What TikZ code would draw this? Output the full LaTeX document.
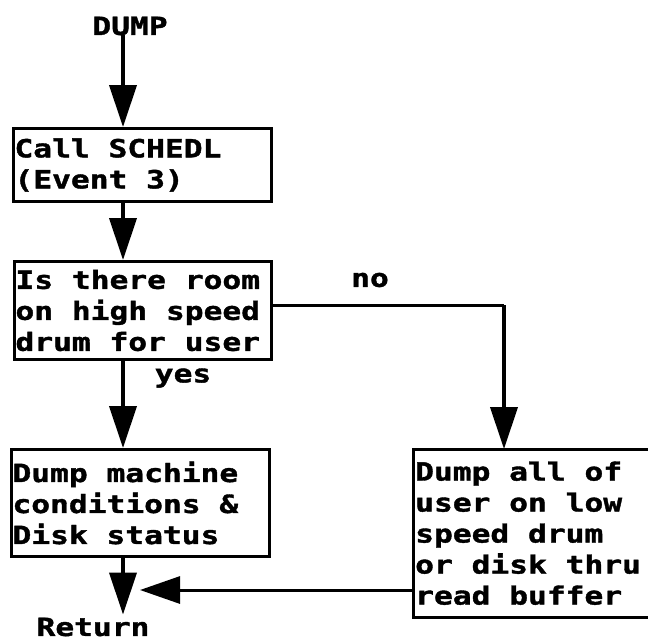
\documentclass[tikz,border=0pt]{standalone}
\usepackage{fontspec}
\usetikzlibrary{arrows.meta}
\newfontfamily\lpfont[FakeStretch=1.25,FakeBold=1.5]{DejaVu Sans Mono Bold}
\newcommand\lpset{\lpfont\fontsize{25}{31}\selectfont}
\begin{document}
\begin{tikzpicture}[x=1pt,y=-1pt,
  lp/.style={font=\lpset,execute at begin node={\spaceskip=18.8pt plus 0pt minus 0pt\relax}},
  box/.style={lp,draw,line width=3pt,anchor=north west,align=left,inner xsep=1pt,inner ysep=0pt},
  openbox/.style={lp,anchor=north west,align=left,inner xsep=2pt,inner ysep=0pt},
  lbl/.style={lp,inner sep=0pt},
  arr/.style={line width=4pt,-{Triangle[width=27pt,length=42pt]}},
  flow/.style={line width=3pt}]
\useasboundingbox[fill=white] (0,0) rectangle (648,641);
\coordinate (c) at (123,0);
\node[lbl] (dump) at (130,26) {DUMP};
\node[box,minimum width=258pt,minimum height=73pt,text width=256pt] (b1) at (12,127) {Call SCHEDL\\(Event 3)};
\node[box,minimum width=257pt,minimum height=98pt,text width=255pt] (b2) at (13,260) {Is there room\\on high speed\\drum for user};
\node[box,minimum width=258pt,minimum height=107pt,text width=256pt] (b3) at (10,448) {Dump machine\\conditions \&\\Disk status};
\node[openbox,minimum width=240pt,minimum height=168pt,text width=236pt] (b4) at (413,449) {Dump all of\\user on low\\speed drum\\or disk thru\\read buffer};
\draw[line width=3pt] ([xshift=20pt]b4.north east) -- (b4.north west) -- (b4.south west) -- ([xshift=20pt]b4.south east);
\node[lbl] (ret) at (93,627) {Return};
\node[lbl] (no) at (370,280) {no};
\node[lbl] (yes) at (183,378) {yes};
\coordinate (nx) at (504,305);
\coordinate (lt) at (140,590);
\draw[arr] (dump.south -| c) -- (b1.north -| c);
\draw[arr] (b1.south -| c) -- (b2.north -| c);
\draw[arr] (b2.south -| c) -- (b3.north -| c);
\draw[arr] (b3.south -| c) -- ([yshift=3pt]ret.north -| c);
\draw[flow] (b2.east |- nx) -- (nx);
\draw[arr] (nx) -- (nx |- b4.north);
\draw[flow,-{Triangle[width=27pt,length=40pt]}] (b4.west |- lt) -- (lt);
\end{tikzpicture}
\end{document}
